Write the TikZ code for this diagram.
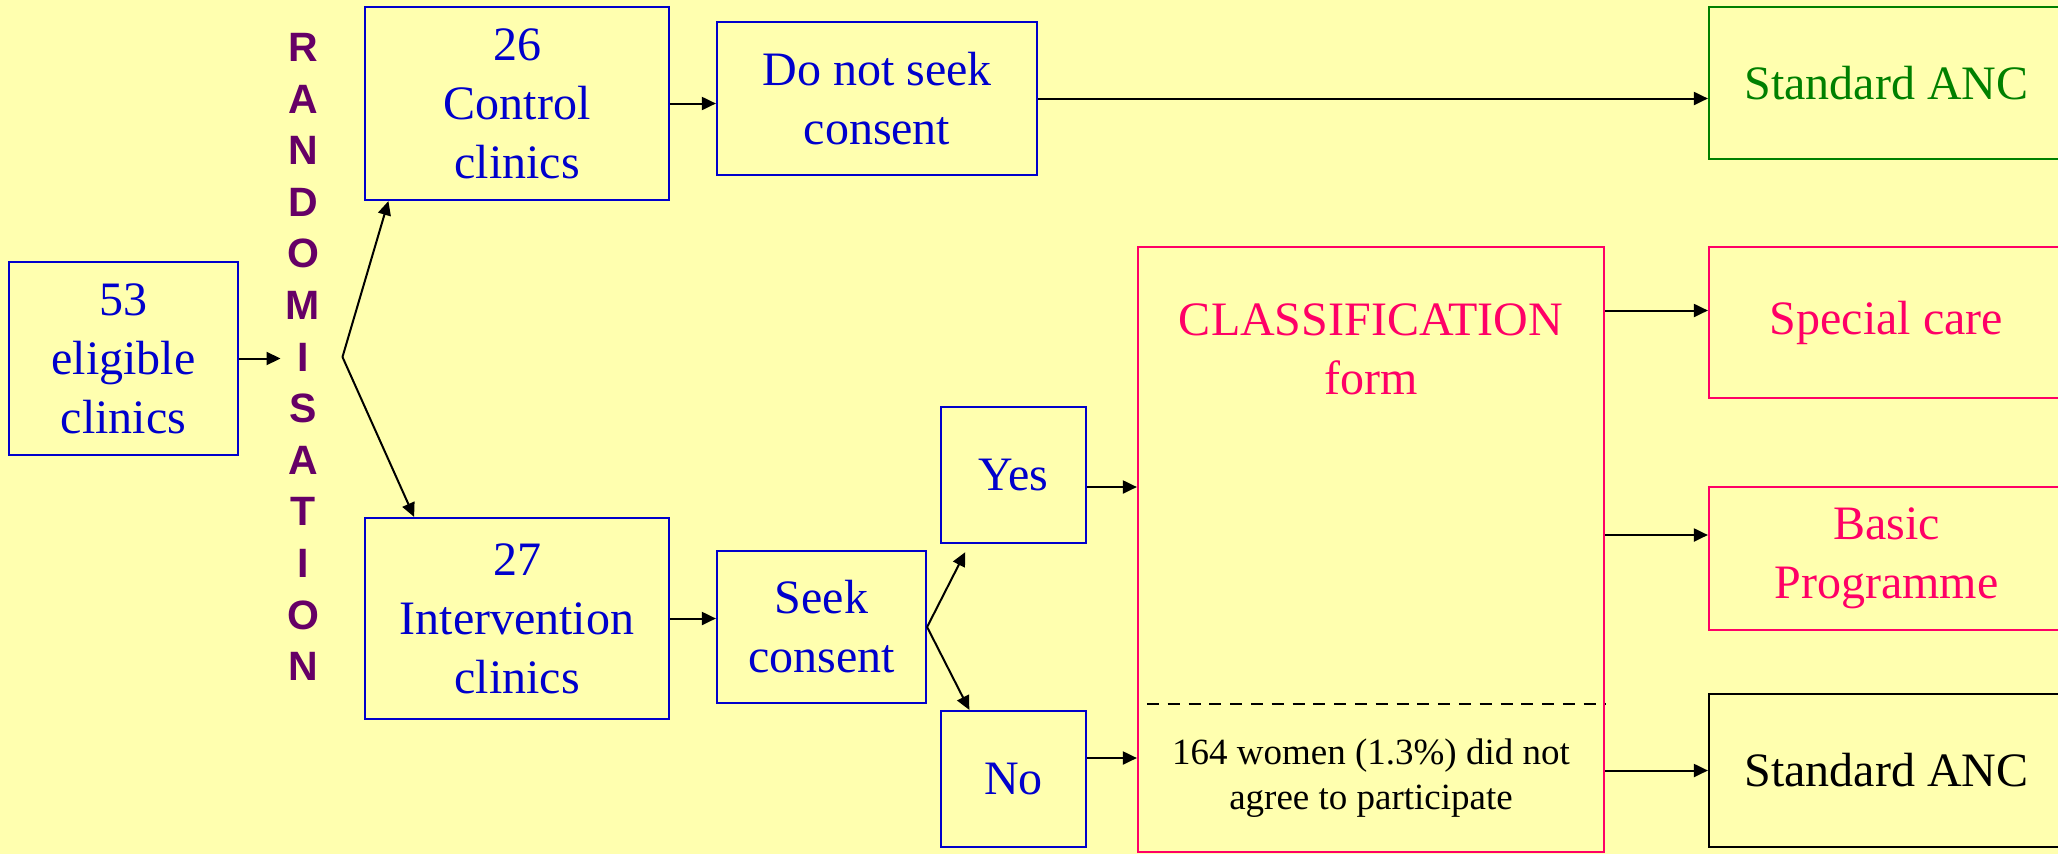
\documentclass[tikz,border=0pt]{standalone}
\usepackage{fontspec}
\setmainfont{Liberation Serif}
\newfontfamily\randfont{Liberation Sans}
\usetikzlibrary{arrows.meta, positioning, calc}

\definecolor{slidebg}{HTML}{FFFFAF}
\definecolor{clinicblue}{HTML}{0000CC}
\definecolor{classpink}{HTML}{FF0066}
\definecolor{ancgreen}{HTML}{008000}
\definecolor{randpurple}{HTML}{660066}

\begin{document}
\begin{tikzpicture}[
    x=0.5bp, y=-0.5bp,
    box/.style={
        rectangle, draw=clinicblue, line width=1.1bp, inner sep=2bp,
        align=center, text=clinicblue,
        font=\fontsize{24bp}{29.5bp}\selectfont
    },
    pinkbox/.style={box, draw=classpink, text=classpink},
    greenbox/.style={box, draw=ancgreen, text=ancgreen},
    blackbox/.style={box, draw=black, text=black},
    arrow/.style={-{Triangle[length=7bp, width=6.5bp]}, line width=1bp, black}
]

% Slide background
\fill[slidebg] (0,0) rectangle (2058,854);
\useasboundingbox (0,0) rectangle (2058,854);
\clip (0,0) rectangle (2058,854);

% Clinics and randomisation
\node[box, minimum width=114.5bp, minimum height=96.5bp] (elig) at (123.5,358.5) {53\\eligible\\clinics};
\node[inner sep=0pt, align=center, text=randpurple,
      font=\randfont\bfseries\fontsize{20.5bp}{25.8bp}\selectfont] (rand) at (303,357)
      {R\\A\\N\\D\\O\\M\\I\\S\\A\\T\\I\\O\\N};
\coordinate[right=11bp of rand] (fork);
\node[box, minimum width=152bp, minimum height=96.5bp] (ctrl) at (517,103.5) {26\\Control\\clinics};
\node[box, minimum width=152bp, minimum height=100.5bp] (interv) at (517,618.5) {27\\Intervention\\clinics};

% Consent steps
\node[box, minimum width=160bp, minimum height=76.5bp] (noseek) at (877,98.5) {Do not seek\\consent};
\node[box, minimum width=104.5bp, minimum height=76bp] (seek) at (821.5,627) {Seek\\consent};
\node[box, minimum width=72.5bp, minimum height=68bp] (yes) at (1013.5,475) {Yes};
\node[box, minimum width=72.5bp, minimum height=68bp] (no) at (1013.5,779) {No};

% Classification form
\node[pinkbox, minimum width=233bp, minimum height=302.5bp] (classif) at (1371,549.5) {};
\node[text=classpink, align=center, font=\fontsize{24bp}{29.5bp}\selectfont] (clstitle)
      at ($(classif.north)+(0,103)$) {CLASSIFICATION\\form};
\node[align=center, font=\fontsize{18.5bp}{22.5bp}\selectfont] (refusal)
      at ($(classif.south)+(0,-75)$) {164 women (1.3\%) did not\\agree to participate};
\draw[line width=1bp, dash pattern=on 6bp off 4.4bp]
      ($(classif.south west)+(10,-149)$) -- ($(classif.south east)+(0,-149)$);

% Care outcomes
\node[greenbox, minimum width=177.5bp, minimum height=76bp] (stdgreen) at (1886.5,83) {Standard ANC};
\node[pinkbox, minimum width=177.5bp, minimum height=75.5bp] (special) at (1886.5,322.5) {Special care};
\node[pinkbox, minimum width=177.5bp, minimum height=71.5bp] (basic) at (1886.5,558.5) {Basic\\Programme};
\node[blackbox, minimum width=177.5bp, minimum height=76.5bp] (stdblack) at (1886.5,770.5) {Standard ANC};

% Randomisation arrows
\draw[arrow, shorten >=2.5bp] (elig.east) -- (elig.east -| rand.west);
\draw[arrow] (fork) -- ($(ctrl.south west)!0.08!(ctrl.south east)$);
\draw[arrow] (fork) -- ($(interv.north west)!0.164!(interv.north east)$);

% Control branch
\draw[arrow] (ctrl.east) -- (ctrl.east -| noseek.west);
\draw[arrow] (noseek.east) -- (noseek.east -| stdgreen.west);

% Intervention branch
\draw[arrow] (interv.east) -- (interv.east -| seek.west);
\draw[arrow, shorten >=4.5bp] (seek.east) -- ($(yes.south west)!0.2!(yes.south east)$);
\draw[arrow] (seek.east) -- ($(no.north west)!0.2!(no.north east)$);
\draw[arrow] ([yshift=-6bp]yes.east) -- ([yshift=-6bp]yes.east -| classif.west);
\draw[arrow] ([yshift=10.5bp]no.east) -- ([yshift=10.5bp]no.east -| classif.west);

% Classification outcomes
\draw[arrow] ([yshift=6bp]special.west -| classif.east) -- ([yshift=6bp]special.west);
\draw[arrow] ([yshift=11.75bp]basic.west -| classif.east) -- ([yshift=11.75bp]basic.west);
\draw[arrow] (stdblack.west -| classif.east) -- (stdblack.west);

\end{tikzpicture}
\end{document}
